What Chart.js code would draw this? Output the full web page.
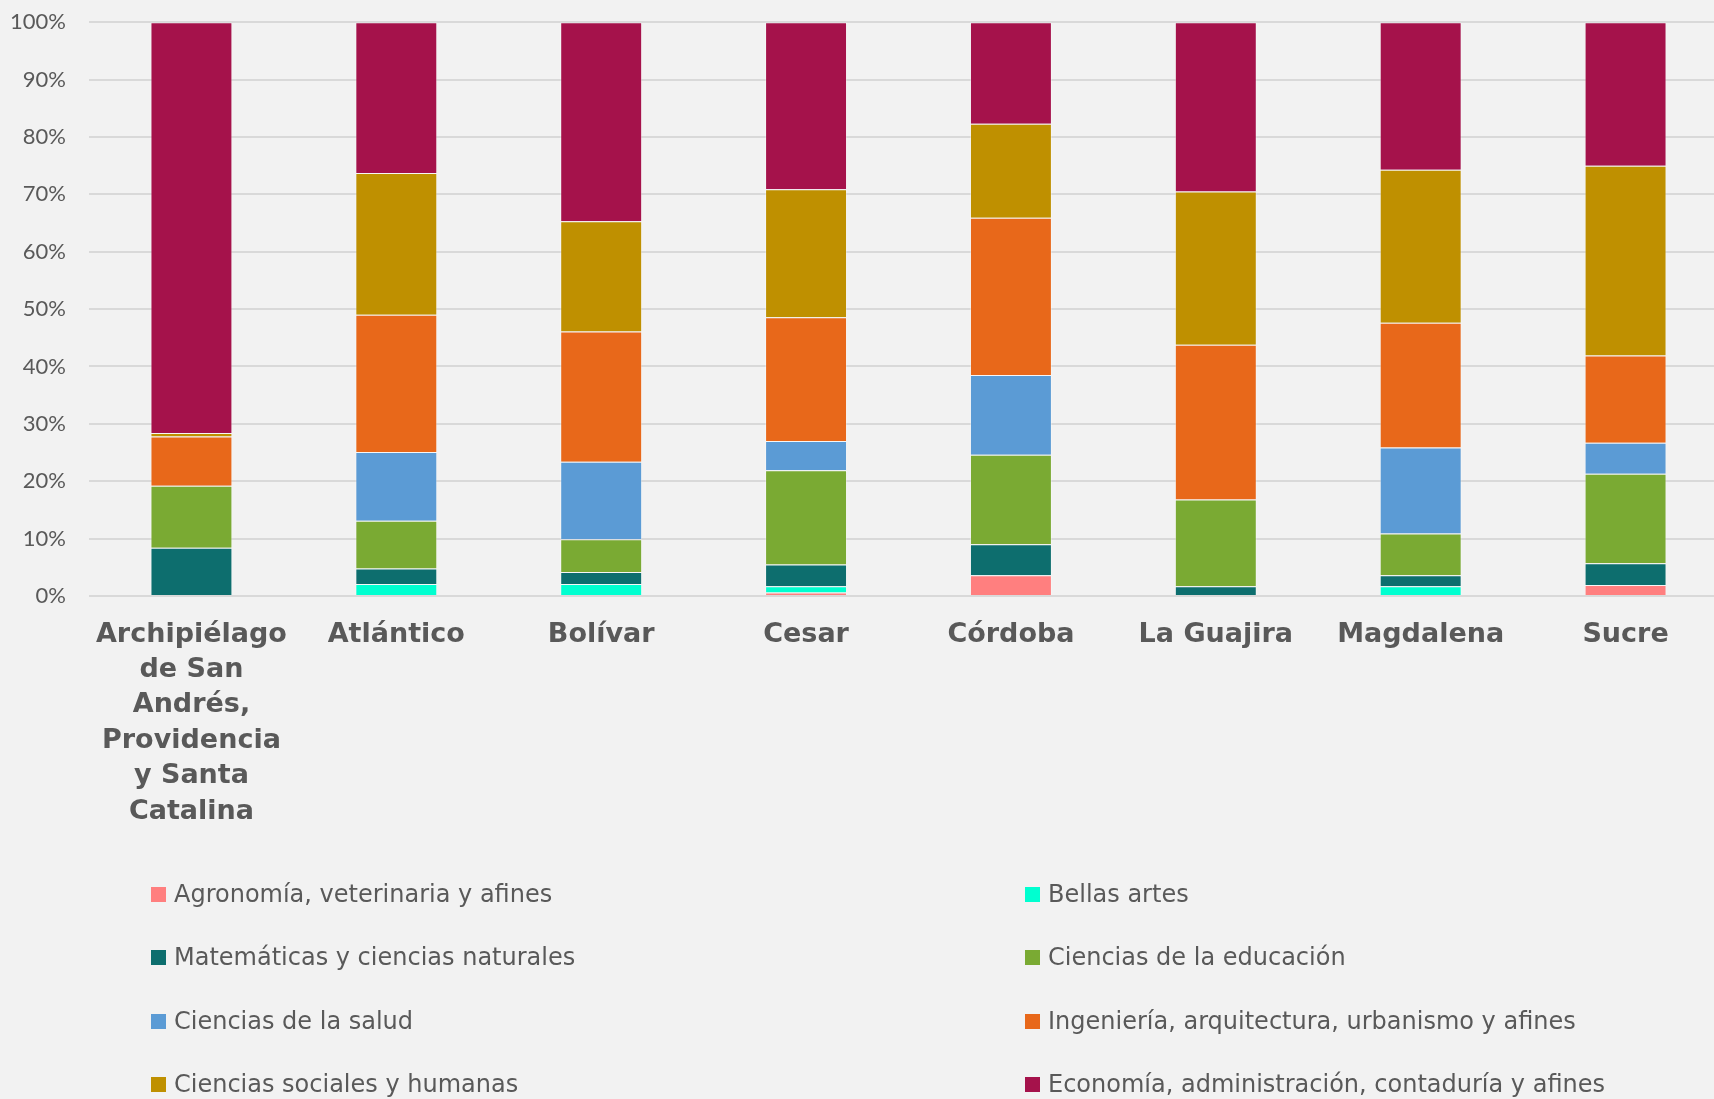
<!DOCTYPE html>
<html>
<head>
<meta charset="utf-8">
<script src="https://cdn.jsdelivr.net/npm/chart.js@4/dist/chart.umd.min.js"></script>
<style>
  html, body { margin: 0; padding: 0; background: #F2F2F2; overflow: hidden; width: 1714px; height: 1099px; }
  #wrap { position: absolute; left: 0; top: -14px; width: 1728px; height: 850px; }
  #legend { position: absolute; left: 0; top: 0; width: 1714px; height: 1099px; pointer-events: none; font-family: "DejaVu Sans", sans-serif; color: #595959; font-size: 24px; }
  .item { position: absolute; display: flex; align-items: center; white-space: nowrap; height: 30px; }
  .box { width: 15px; height: 15px; margin-right: 8px; }
</style>
</head>
<body>
<div id="wrap"><canvas id="c" width="1728" height="850"></canvas></div>
<div id="legend"></div>
<script>
const categories = [
  ["Archipiélago", "de San", "Andrés,", "Providencia", "y Santa", "Catalina"],
  "Atlántico", "Bolívar", "Cesar", "Córdoba", "La Guajira", "Magdalena", "Sucre"
];
const seriesNames = [
  "Agronomía, veterinaria y afines",
  "Bellas artes",
  "Matemáticas y ciencias naturales",
  "Ciencias de la educación",
  "Ciencias de la salud",
  "Ingeniería, arquitectura, urbanismo y afines",
  "Ciencias sociales y humanas",
  "Economía, administración, contaduría y afines"
];
const agronomia   = [0,    0,    0,    0.6,  3.6,  0,    0,    1.9];
const bellasArtes = [0,    2.1,  2.1,  1.1,  0,    0,    1.7,  0];
const matematicas = [8.4,  2.7,  2.1,  3.8,  5.4,  1.7,  1.9,  3.8];
const educacion   = [10.8, 8.3,  5.7,  16.4, 15.6, 15.1, 7.3,  15.6];
const salud       = [0,    12.0, 13.5, 5.1,  13.9, 0,    15.0, 5.4];
const ingenieria  = [8.6,  23.9, 22.7, 21.6, 27.4, 27.0, 21.7, 15.2];
const sociales    = [0.6,  24.7, 19.2, 22.3, 16.4, 26.7, 26.7, 33.1];
const economia    = [71.6, 26.3, 34.7, 29.1, 17.7, 29.5, 25.7, 25.0];
const yTicks = [0, 10, 20, 30, 40, 50, 60, 70, 80, 90, 100];

const seriesValues = [agronomia, bellasArtes, matematicas, educacion, salud, ingenieria, sociales, economia];
const colors = ["#FF7F7F", "#00FFD0", "#0D6E6E", "#7AAA33", "#5B9BD5", "#E8681A", "#BF9000", "#A5124B"];

const datasets = seriesNames.map((name, i) => ({
  label: name,
  data: seriesValues[i],
  backgroundColor: colors[i],
  borderColor: "rgba(255,255,255,0.35)",
  borderWidth: 1,
  barPercentage: 0.4,
  categoryPercentage: 1.0
}));

const chart = new Chart(document.getElementById("c"), {
  type: "bar",
  data: { labels: categories, datasets },
  options: {
    responsive: false,
    animation: false,
    devicePixelRatio: 1,
    layout: { padding: { top: 8, left: 0, right: 0, bottom: 0 } },
    plugins: { legend: { display: false }, tooltip: { enabled: false } },
    scales: {
      x: {
        stacked: true,
        grid: { display: false, drawTicks: false },
        border: { display: false },
        ticks: {
          color: "#595959",
          font: { family: "DejaVu Sans", weight: "bold", size: 27, lineHeight: 1.31 },
          padding: 21,
          maxRotation: 0,
          autoSkip: false
        },
        afterFit: (s) => { s.height = 850 - 610; }
      },
      y: {
        stacked: true,
        min: 0, max: 100,
        afterBuildTicks: (s) => { s.ticks = yTicks.map(v => ({ value: v })); },
        grid: { color: "#D9D9D9", lineWidth: 2, drawTicks: false },
        border: { display: false },
        ticks: {
          color: "#595959",
          font: { family: "Lato", size: 22 },
          padding: 23,
          callback: (v) => v + "%"
        },
        afterFit: (s) => { s.width = 89; }
      }
    }
  }
});

// HTML legend in two columns, generated from datasets
const legend = document.getElementById("legend");
const colX = [151, 1025];
const rowY = [894, 957, 1021, 1084];
chart.data.datasets.forEach((ds, i) => {
  const el = document.createElement("div");
  el.className = "item";
  el.style.left = colX[i % 2] + "px";
  el.style.top = (rowY[Math.floor(i / 2)] - 15) + "px";
  const b = document.createElement("span");
  b.className = "box";
  b.style.background = ds.backgroundColor;
  const t = document.createElement("span");
  t.textContent = ds.label;
  el.appendChild(b); el.appendChild(t);
  legend.appendChild(el);
});
</script>
</body>
</html>
